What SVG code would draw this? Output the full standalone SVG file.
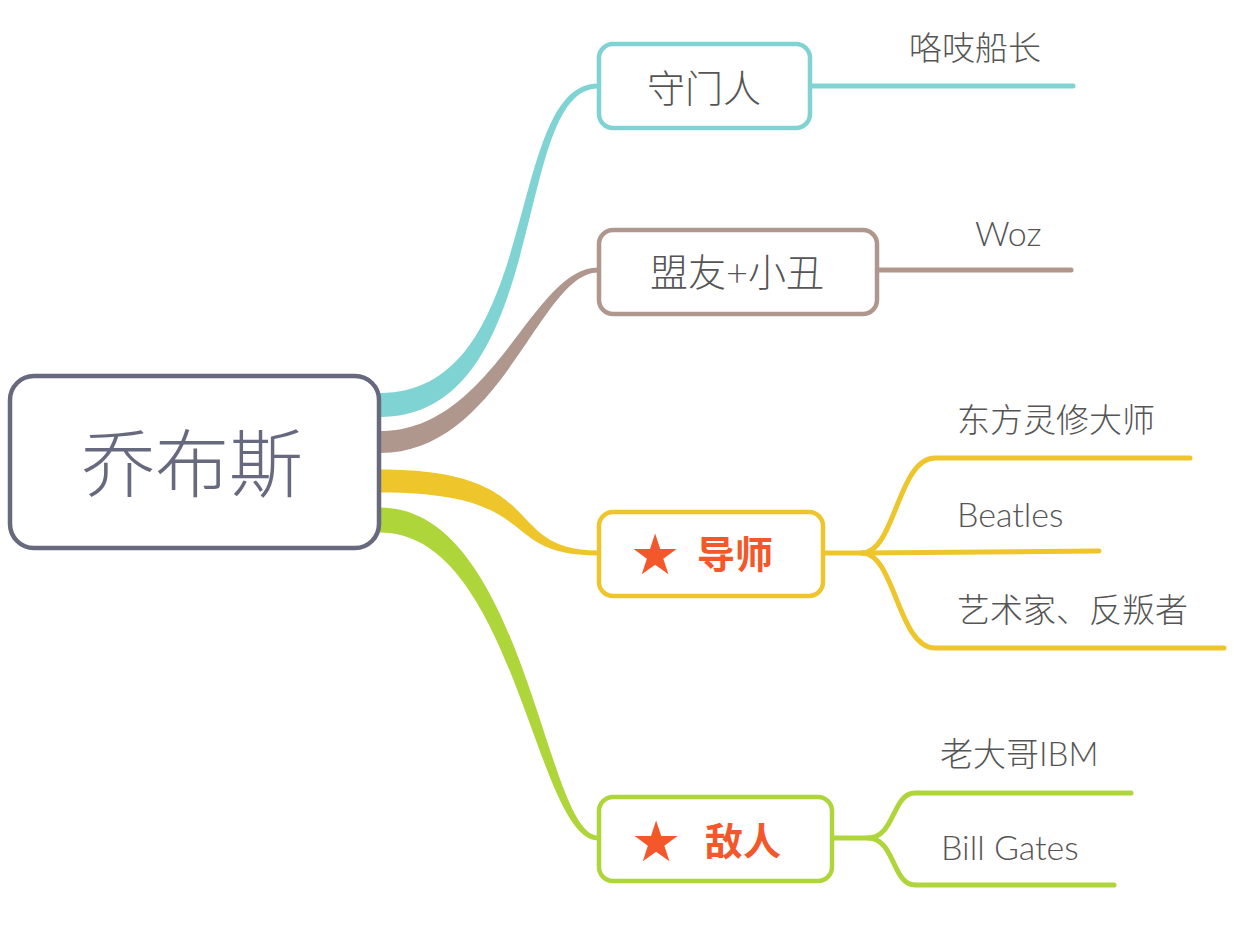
<svg xmlns="http://www.w3.org/2000/svg" width="1250" height="930" viewBox="0 0 1250 930">
<style>
  .t { font-family: Lato, "Noto Sans CJK SC", sans-serif; fill: #555555; font-weight: 300; }
  .c { font-size: 33px; }
  .lat { font-size: 34px; }
  .n { font-size: 38px; text-anchor: middle; }
  .hot { font-family: "Noto Sans CJK SC", sans-serif; fill: #f4572a; font-weight: bold; font-size: 38px; }
  .star { font-family: "DejaVu Sans", sans-serif; fill: #f4572a; font-size: 56px; text-anchor: middle; }
  .box { fill: #ffffff; stroke-width: 4.5; }
  .ln { fill: none; stroke-width: 5; stroke-linecap: round; stroke-linejoin: round; }
</style>
<rect width="1250" height="930" fill="#ffffff"/>
<g id="connectors">
  <path d="M380,393 C544,393 503,83.5 598,83.5 L598,88.5 C511,88.5 552,417 380,417 Z" fill="#7fd4d3"/>
  <path d="M380,431 C494,431 532,267.5 598,267.5 L598,272.5 C540,272.5 502,453 380,453 Z" fill="#b0978e"/>
  <path d="M380,469.5 C553,469.5 500,550.5 598,550.5 L598,555.5 C494,555.5 547,492.5 380,492.5 Z" fill="#eec62b"/>
  <path d="M380,507.5 C525,507.5 545,835.5 598,835.5 L598,840.5 C535,840.5 515,532.5 380,532.5 Z" fill="#aed63b"/>
  <path class="ln" d="M811,86 L1073,86" stroke="#7fd4d3"/>
  <path class="ln" d="M878,270 L1071,270" stroke="#b0978e"/>
  <path class="ln" d="M824,553 L862,553 C895,553 898,458 935,458 L1190,458" stroke="#eec62b"/>
  <path class="ln" d="M862,553 L1099,551" stroke="#eec62b"/>
  <path class="ln" d="M862,553 C895,553 898,648 935,648 L1224,648" stroke="#eec62b"/>
  <path class="ln" d="M833,838 L868,838 C895,838 892,793 915,793 L1131,793" stroke="#aed63b"/>
  <path class="ln" d="M868,838 C895,838 892,885 915,885 L1114,885" stroke="#aed63b"/>
</g>
<g id="root">
  <rect class="box" x="10" y="376" width="369" height="172" rx="24" stroke="#676a7e" stroke-width="5"/>
  <text class="t" x="192" y="491" font-size="74" text-anchor="middle" style="fill:#676a7e">乔布斯</text>
</g>
<g id="n-gatekeeper">
  <rect class="box" x="599" y="44" width="211" height="84" rx="14" stroke="#7fd4d3"/>
  <text class="t n" x="704" y="102">守门人</text>
</g>
<g id="n-ally">
  <rect class="box" x="599" y="230" width="278" height="84" rx="14" stroke="#b0978e"/>
  <text class="t n" x="737" y="286">盟友+小丑</text>
</g>
<g id="n-mentor">
  <rect class="box" x="599" y="512" width="224" height="84" rx="14" stroke="#eec62b"/>
  <text class="star" x="655" y="574">★</text>
  <text class="hot" x="697" y="568">导师</text>
</g>
<g id="n-enemy">
  <rect class="box" x="599" y="797" width="233" height="84" rx="14" stroke="#aed63b"/>
  <text class="star" x="656" y="861">★</text>
  <text class="hot" x="705" y="855">敌人</text>
</g>
<g id="c-captain"><text class="t c" x="909" y="60">咯吱船长</text></g>
<g id="c-woz"><text class="t lat" x="975" y="246">Woz</text></g>
<g id="c-guru"><text class="t c" x="957" y="432">东方灵修大师</text></g>
<g id="c-beatles"><text class="t lat" x="957" y="527">Beatles</text></g>
<g id="c-artist"><text class="t c" x="957" y="622">艺术家、反叛者</text></g>
<g id="c-ibm"><text class="t c" x="940" y="766">老大哥IBM</text></g>
<g id="c-gates"><text class="t lat" x="941" y="860" font-size="35">Bill Gates</text></g>
</svg>
